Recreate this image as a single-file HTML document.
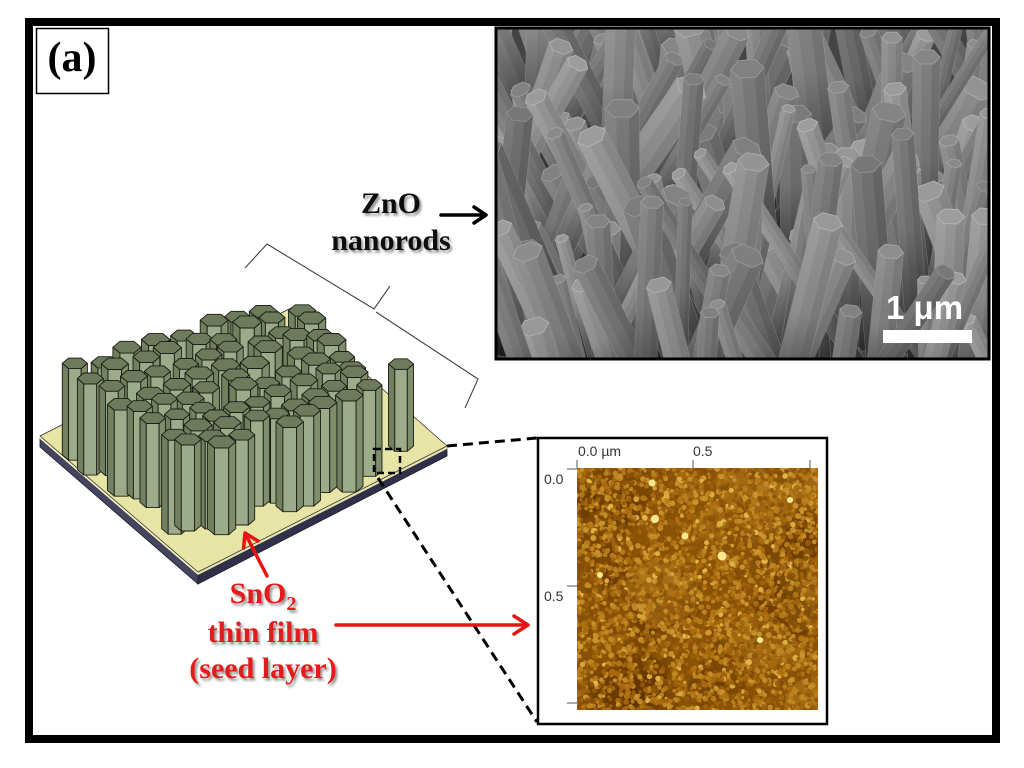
<!DOCTYPE html>
<html><head><meta charset="utf-8">
<style>
html,body{margin:0;padding:0;background:#fff;}
body{width:1024px;height:768px;overflow:hidden;}
svg{display:block;}
</style></head>
<body>
<svg id="root" width="1024" height="768" viewBox="0 0 1024 768" xmlns="http://www.w3.org/2000/svg">
<defs>
<clipPath id="semc"><rect x="497" y="29" width="491" height="330"/></clipPath>
<clipPath id="afmc"><rect x="577" y="468" width="241" height="242"/></clipPath>
<filter id="ds" x="-10%" y="-20%" width="130%" height="150%"><feDropShadow dx="2" dy="2.5" stdDeviation="1.3" flood-color="#555" flood-opacity="0.65"/></filter>
<linearGradient id="shade" x1="0" y1="0" x2="0" y2="1">
<stop offset="0" stop-color="#000" stop-opacity="0"/>
<stop offset="0.4" stop-color="#000" stop-opacity="0.1"/>
<stop offset="1" stop-color="#000" stop-opacity="0.75"/>
</linearGradient>
</defs>
<rect x="0" y="0" width="1024" height="768" fill="#fff"/>

<!-- outer frame -->
<rect x="29" y="22" width="967" height="717" fill="none" stroke="#000" stroke-width="8"/>

<!-- (a) label -->
<rect x="36.5" y="28.5" width="72" height="65" fill="#fff" stroke="#000" stroke-width="1.5"/>
<text x="72" y="71" font-family="Liberation Serif, serif" font-size="42" font-weight="bold" text-anchor="middle" fill="#000">(a)</text>

<!-- SEM image -->
<rect x="496" y="28" width="493" height="331" fill="#444"/>
<g id="sem" clip-path="url(#semc)"></g>
<rect x="496" y="28" width="493" height="331" fill="none" stroke="#000" stroke-width="3"/>
<rect x="883" y="330" width="89" height="13" fill="#fff"/>
<text x="886" y="319" font-family="Liberation Sans, sans-serif" font-size="33" font-weight="bold" fill="#fff">1 μm</text>

<!-- AFM image -->
<rect x="538" y="438" width="289" height="286" fill="#fff" stroke="#000" stroke-width="2.5"/>
<rect x="577" y="468" width="241" height="242" fill="#8a5206"/>
<g id="afm" clip-path="url(#afmc)"></g>
<g stroke="#555" stroke-width="1">
<line x1="577" y1="460" x2="577" y2="468"/>
<line x1="693" y1="460" x2="693" y2="468"/>
<line x1="810" y1="460" x2="810" y2="468"/>
<line x1="567" y1="469" x2="577" y2="469"/>
<line x1="567" y1="586" x2="577" y2="586"/>
<line x1="567" y1="703" x2="577" y2="703"/>
</g>
<g font-family="Liberation Sans, sans-serif" font-size="14" fill="#333">
<text x="578" y="456">0.0 µm</text>
<text x="693" y="456">0.5</text>
<text x="544" y="484">0.0</text>
<text x="544" y="601">0.5</text>
</g>

<!-- substrate -->
<polygon points="40,439 198,575 198,584 40,447" fill="#45455f" stroke="#1a1a2a" stroke-width="0.8"/>
<polygon points="198,575 447,449 447,456 198,584" fill="#30304a" stroke="#1a1a2a" stroke-width="0.8"/>
<polygon points="40,436 198,572 198,575 40,439" fill="#f3f1c4"/>
<polygon points="198,572 447,446 447,449 198,575" fill="#e6e4b0"/>
<polygon points="40,436 291,308 447,446 198,572" fill="#e7e5a6" stroke="#333" stroke-width="0.8"/>

<!-- nanorods -->
<g id="nr"></g>

<!-- bracket -->
<path d="M245,268 L267,244 L374,309 L390,286 M376,312 L478,379 L465,408" fill="none" stroke="#444" stroke-width="1.1"/>

<!-- dashed square and zoom lines -->
<rect x="374" y="449" width="26" height="24" fill="none" stroke="#000" stroke-width="2.5" stroke-dasharray="7 4"/>
<line x1="447" y1="446" x2="537" y2="438" stroke="#000" stroke-width="3" stroke-dasharray="10 6"/>
<line x1="378" y1="478" x2="537" y2="722" stroke="#000" stroke-width="3" stroke-dasharray="10 6"/>

<!-- arrows -->
<g stroke="#000" stroke-width="3.5" fill="none" stroke-linecap="round" stroke-linejoin="round">
<line x1="441" y1="215" x2="484" y2="215"/>
<polyline points="474,207 486,215 474,223"/>
</g>
<g stroke="#e81414" stroke-width="3.5" fill="none" stroke-linecap="round" stroke-linejoin="round">
<line x1="336" y1="625" x2="525" y2="625"/>
<polyline points="514,616 528,625 514,634"/>
<line x1="267" y1="576" x2="247" y2="537"/>
<polyline points="258,541 245,533 243.6,548"/>
</g>

<!-- labels -->
<g font-family="Liberation Serif, serif" font-weight="bold" font-size="30" text-anchor="middle" filter="url(#ds)">
<text x="391" y="213" fill="#111">ZnO</text>
<text x="391" y="250" fill="#111">nanorods</text>
<text x="263" y="603" fill="#e21b1b">SnO<tspan font-size="20" dy="7">2</tspan></text>
<text x="263" y="642" fill="#e21b1b">thin film</text>
<text x="263" y="678" fill="#e21b1b">(seed layer)</text>
</g>
</svg>
<script>
(function(){
var NS="http://www.w3.org/2000/svg";
var seed=20240607;
function r(){seed=(seed*16807)%2147483647;return (seed-1)/2147483646;}
function el(t,a,p){var e=document.createElementNS(NS,t);for(var k in a)e.setAttribute(k,a[k]);p.appendChild(e);return e;}
function gr(v){v=Math.max(0,Math.min(255,Math.round(v)));return "rgb("+v+","+v+","+v+")";}
function rgb(c){return "rgb("+Math.round(c[0])+","+Math.round(c[1])+","+Math.round(c[2])+")";}
function pts(a){var s=[];for(var i=0;i<a.length;i+=2)s.push(a[i].toFixed(1)+","+a[i+1].toFixed(1));return s.join(" ");}

/* SEM */
var sem=document.getElementById("sem");
var rods=[];
for(var i=0;i<190;i++){
  rods.push({x:485+r()*520,y:50+r()*350,L:45+r()*150,w:13+r()*22,a:(r()-0.5)*70,g:112+r()*40});
}
rods.sort(function(p,q){return p.y-q.y;});
for(var i=0;i<rods.length;i++){
  var o=rods[i];
  var g=el("g",{transform:"translate("+o.x.toFixed(1)+","+o.y.toFixed(1)+") rotate("+o.a.toFixed(1)+")"},sem);
  var w=o.w,L=o.L,hw=w/2,hh=w*0.26,T=-L,len=L+70;
  el("rect",{x:-hw,y:T,width:w,height:len,fill:gr(o.g),stroke:"rgba(190,190,190,0.35)","stroke-width":"1"},g);
  el("rect",{x:-hw,y:T,width:w*0.33,height:len,fill:gr(o.g+10)},g);
  el("rect",{x:hw-w*0.3,y:T,width:w*0.3,height:len,fill:gr(o.g-12)},g);
  el("rect",{x:-hw,y:T,width:w,height:len,fill:"url(#shade)"},g);
  el("polygon",{points:pts([-hw,T,-hw/2,T-hh,hw/2,T-hh,hw,T,hw/2,T+hh,-hw/2,T+hh]),fill:gr(o.g+6),stroke:gr(o.g+28),"stroke-width":"1"},g);
}

/* AFM */
var afm=document.getElementById("afm");
function pal(t){var a=[78,40,0],b=[172,108,14],c=[245,205,90],s;
  if(t<0.5){s=t/0.5;return [a[0]+(b[0]-a[0])*s,a[1]+(b[1]-a[1])*s,a[2]+(b[2]-a[2])*s];}
  s=(t-0.5)/0.5;return [b[0]+(c[0]-b[0])*s,b[1]+(c[1]-b[1])*s,b[2]+(c[2]-b[2])*s];}
for(var i=0;i<40;i++){
  var dark=r()<0.55;
  el("circle",{cx:(577+r()*241).toFixed(1),cy:(468+r()*242).toFixed(1),r:(12+r()*22).toFixed(1),fill:dark?"#5a2e00":"#d09a30","fill-opacity":"0.3"},afm);
}
for(var i=0;i<4200;i++){
  var x=574+r()*247,y=465+r()*248,t=0.25+r()*0.5;
  if(r()<0.05)t=0.8+r()*0.15;
  el("circle",{cx:x.toFixed(1),cy:y.toFixed(1),r:(1.5+r()*1.6).toFixed(1),fill:rgb(pal(t)),"fill-opacity":"0.88"},afm);
}
var spots=[[655,519,4],[722,556,4.5],[652,483,3.5],[685,536,3.5],[600,575,3],[790,500,3],[760,640,3]];
for(var i=0;i<spots.length;i++)el("circle",{cx:spots[i][0],cy:spots[i][1],r:spots[i][2],fill:"#fbe890"},afm);

/* nanorods */
var nr=document.getElementById("nr");
function poly(p,fill,g){var s=[];for(var i=0;i<p.length;i++)s.push(p[i][0].toFixed(1)+","+p[i][1].toFixed(1));el("polygon",{points:s.join(" "),fill:fill},g);}
function rod(o){
  var x=o.x,y=o.y,w=o.w,H=o.H,h=w*0.42;
  var p0=[x-w/2,y],p1=[x-w/4,y-h/2],p2=[x+w/4,y-h/2],p3=[x+w/2,y],p4=[x+w/4,y+h/2],p5=[x-w/4,y+h/2];
  var g=el("g",{stroke:"#1c1c14","stroke-width":"0.9","stroke-linejoin":"round"},nr);
  poly([p0,p5,[p5[0],p5[1]+H],[p0[0],p0[1]+H]],"#71805f",g);
  poly([p5,p4,[p4[0],p4[1]+H],[p5[0],p5[1]+H]],"#9cac8a",g);
  poly([p4,p3,[p3[0],p3[1]+H],[p4[0],p4[1]+H]],"#7e8e6c",g);
  poly([p0,p1,p2,p3,p4,p5],"#6d7b5c",g);
}
var F=[205,455],R=[368,385],B=[290,298],Lc=[75,366];
var list=[],N=9;
for(var i=0;i<N;i++)for(var j=0;j<N;j++){
  if(r()<0.07)continue;
  var u=i/(N-1),v=j/(N-1);
  var x=(1-u)*(1-v)*F[0]+u*(1-v)*R[0]+(1-u)*v*Lc[0]+u*v*B[0]+(r()-0.5)*10;
  var y=(1-u)*(1-v)*F[1]+u*(1-v)*R[1]+(1-u)*v*Lc[1]+u*v*B[1]+(r()-0.5)*10;
  list.push({x:x,y:y,H:84+r()*10,w:25+r()*4});
}
list.push({x:401,y:364,H:82,w:25});
list.sort(function(a,b){return a.y-b.y;});
for(var i=0;i<list.length;i++)rod(list[i]);
})();
</script>
</body></html>
